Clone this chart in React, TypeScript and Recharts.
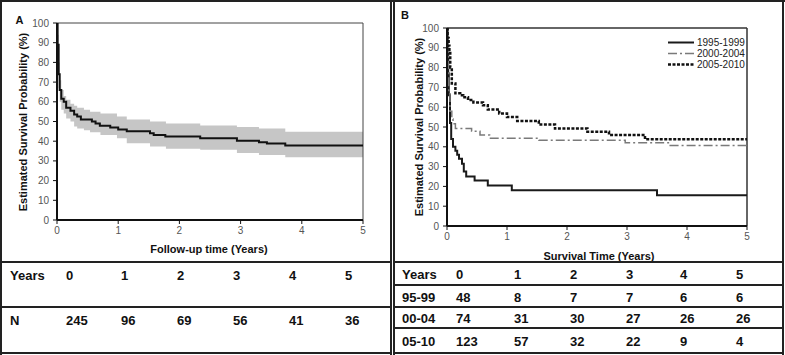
import React from "react";
import { ComposedChart, LineChart, Line, Area, XAxis, YAxis, ReferenceLine } from "recharts";

const FONT = "'Liberation Sans', Arial, sans-serif";

const yearTicks = [0, 1, 2, 3, 4, 5];
const pctTicks = [0, 10, 20, 30, 40, 50, 60, 70, 80, 90, 100];

// panel A: overall Kaplan-Meier estimate
const overallTime = [0, 0.01, 0.027, 0.044, 0.07, 0.11, 0.15, 0.22, 0.28, 0.33, 0.39, 0.57, 0.63, 0.7, 0.87, 1.0, 1.14, 1.52, 1.58, 1.77, 2.34, 2.94, 3.3, 3.43, 3.73, 5];
const overallSurv = [100, 89, 74, 66, 61.5, 60, 57, 55.5, 53.5, 52.5, 51, 50, 49, 47.8, 47, 46, 45, 44, 43.2, 42.4, 41.5, 40.2, 39.5, 38.8, 37.8, 37.8];

// 95% confidence band
const ciTime = [0, 0.01, 0.027, 0.044, 0.07, 0.11, 0.15, 0.22, 0.28, 0.33, 0.44, 0.54, 0.71, 0.98, 1.14, 1.52, 1.78, 2.34, 2.94, 3.3, 3.73, 5];
const ciUpper = [100, 94, 80, 71, 66, 63, 61, 59, 58, 57, 56, 55, 54, 52.5, 51, 50, 49, 48, 47.2, 46.5, 44.8, 44.8];
const ciLower = [100, 83, 67, 60, 56, 54, 51.5, 50, 47.5, 46.5, 45.5, 44.5, 43.2, 41.5, 39, 37.3, 36.2, 35.6, 34, 33, 31.8, 31.8];

// panel B: by period of diagnosis
const cohortLabels = ["1995-1999", "2000-2004", "2005-2010"];
const time9599 = [0, 0.01, 0.02, 0.03, 0.05, 0.07, 0.1, 0.14, 0.17, 0.2, 0.25, 0.28, 0.32, 0.46, 0.68, 1.08, 3.5, 5];
const surv9599 = [100, 90, 77, 66, 52, 44, 40, 38, 36, 34, 31.5, 27.5, 25, 23, 20.5, 18, 15.5, 15.5];
const time0004 = [0, 0.01, 0.02, 0.03, 0.05, 0.08, 0.1, 0.14, 0.41, 0.55, 0.71, 1.53, 2.97, 3.72, 5];
const surv0004 = [100, 92, 80, 68, 58, 54, 51.7, 49.2, 47.8, 46, 44.3, 43.3, 42, 40.7, 40.7];
const time0510 = [0, 0.01, 0.027, 0.04, 0.054, 0.08, 0.14, 0.22, 0.27, 0.35, 0.44, 0.6, 0.68, 0.87, 1.0, 1.17, 1.53, 1.8, 2.34, 2.7, 3.3, 5];
const surv0510 = [100, 95, 91, 88, 80, 72, 67, 66, 65, 63.6, 62.4, 61, 58.8, 56.8, 55, 53, 51.2, 49.2, 47.6, 46, 43.8, 43.8];

// numbers at risk
const riskYears = ["0", "1", "2", "3", "4", "5"];
const riskAll = [245, 96, 69, 56, 41, 36];
const riskRowLabels = ["95-99", "00-04", "05-10"];
const risk9599 = [48, 8, 7, 7, 6, 6];
const risk0004 = [74, 31, 30, 27, 26, 26];
const risk0510 = [123, 57, 32, 22, 9, 4];

const zip = (t: number[], s: number[]) => t.map((x, i) => ({ t: x, s: s[i] }));

const overallData = zip(overallTime, overallSurv);
const ciData = ciTime.map((x, i) => ({ t: x, range: [ciLower[i], ciUpper[i]] }));
const cohortData = [zip(time9599, surv9599), zip(time0004, surv0004), zip(time0510, surv0510)];
const cohortStyles = [
  { stroke: "#1a1a1a", strokeWidth: 2, dash: undefined },
  { stroke: "#7a7a7a", strokeWidth: 1.5, dash: "9 3 2 3" },
  { stroke: "#111", strokeWidth: 2.5, dash: "3 1.5" },
];

const tickStyle = { fontSize: 10, fill: "#555", fontFamily: FONT };

function Txt({ x, y, children, size = 13, weight = "bold", rotate = false, center = false, color = "#111" }: any) {
  const transform = rotate
    ? "translate(-50%, -50%) rotate(-90deg)"
    : center
    ? "translate(-50%, -50%)"
    : "translateY(-50%)";
  return (
    <div
      style={{
        position: "absolute",
        left: x,
        top: y,
        transform,
        fontFamily: FONT,
        fontSize: size,
        fontWeight: weight,
        color,
        whiteSpace: "nowrap",
        lineHeight: 1,
      }}
    >
      {children}
    </div>
  );
}

function Rule({ x, y, w, h }: any) {
  return <div style={{ position: "absolute", left: x, top: y, width: w, height: h, background: "#222" }} />;
}

function axes() {
  return [
    <XAxis
      key="x"
      type="number"
      dataKey="t"
      domain={[0, 5]}
      ticks={yearTicks}
      allowDataOverflow
      height={30}
      tickSize={4}
      tickMargin={3}
      axisLine={{ stroke: "#111", strokeWidth: 2 }}
      tickLine={{ stroke: "#111" }}
      tick={tickStyle}
    />,
    <YAxis
      key="y"
      type="number"
      domain={[0, 100]}
      ticks={pctTicks}
      allowDataOverflow
      width={40}
      tickSize={4}
      tickMargin={4}
      axisLine={{ stroke: "#111", strokeWidth: 2 }}
      tickLine={{ stroke: "#111" }}
      tick={tickStyle}
    />,
  ];
}

function PanelA() {
  return (
    <div style={{ position: "absolute", left: 0, top: 0 }}>
      <ComposedChart width={392} height={262} margin={{ top: 23, right: 29, bottom: 12, left: 17 }}>
        {axes()}
        <Area data={ciData} dataKey="range" type="stepAfter" fill="#c6c6c6" fillOpacity={1} stroke="none" isAnimationActive={false} />
        <ReferenceLine y={100} stroke="#444" strokeWidth={1} />
        <ReferenceLine x={5} stroke="#444" strokeWidth={1} />
        <Line data={overallData} dataKey="s" type="stepAfter" stroke="#111" strokeWidth={2} dot={false} isAnimationActive={false} />
      </ComposedChart>
    </div>
  );
}

function PanelB() {
  return (
    <div style={{ position: "absolute", left: 395, top: 0 }}>
      <LineChart width={385} height={262} margin={{ top: 28, right: 33, bottom: 6, left: 12 }}>
        {axes()}
        <ReferenceLine y={100} stroke="#333" strokeWidth={1.5} />
        <ReferenceLine x={5} stroke="#333" strokeWidth={1.5} />
        {cohortData.map((d, i) => (
          <Line
            key={cohortLabels[i]}
            name={cohortLabels[i]}
            data={d}
            dataKey="s"
            type="stepAfter"
            stroke={cohortStyles[i].stroke}
            strokeWidth={cohortStyles[i].strokeWidth}
            strokeDasharray={cohortStyles[i].dash}
            dot={false}
            isAnimationActive={false}
          />
        ))}
      </LineChart>
      {cohortLabels.map((label, i) => (
        <div key={label} style={{ position: "absolute", left: 273, top: 37 + i * 11, height: 11, display: "flex", alignItems: "center" }}>
          <svg width={27} height={11}>
            <line
              x1={0}
              x2={26}
              y1={5.5}
              y2={5.5}
              stroke={cohortStyles[i].stroke}
              strokeWidth={cohortStyles[i].strokeWidth}
              strokeDasharray={cohortStyles[i].dash}
            />
          </svg>
          <span style={{ fontFamily: FONT, fontSize: 10, color: "#222", marginLeft: 2 }}>{label}</span>
        </div>
      ))}
    </div>
  );
}

const colA = [10, 66, 121, 177, 233, 289, 345];
const colB = [402, 456, 514, 570, 626, 680, 736];

export default function App() {
  return (
    <div style={{ position: "absolute", left: 0, top: 0, width: 785, height: 355, background: "#fff", overflow: "hidden" }}>
      <PanelA />
      <PanelB />

      <Txt x={19.5} y={19.5} size={11} center>A</Txt>
      <Txt x={405} y={15} size={11} center>B</Txt>
      <Txt x={23} y={122} size={11} rotate>Estimated Survival Probability (%)</Txt>
      <Txt x={419} y={127} size={11} rotate>Estimated Survival Probability (%)</Txt>
      <Txt x={209} y={249} size={11} center>Follow-up time (Years)</Txt>
      <Txt x={599} y={256} size={11} center>Survival Time (Years)</Txt>

      {/* frame */}
      <Rule x={0} y={0} w={785} h={2} />
      <Rule x={0} y={0} w={2} h={355} />
      <Rule x={390} y={0} w={2} h={355} />
      <Rule x={393} y={0} w={2} h={355} />
      <Rule x={782} y={0} w={2} h={355} />

      {/* left table */}
      <Rule x={0} y={261} w={392} h={2} />
      <Rule x={0} y={306} w={392} h={2} />
      <Rule x={0} y={352} w={392} h={2} />
      <Txt x={colA[0]} y={275}>Years</Txt>
      {riskYears.map((y, i) => (
        <Txt key={"ya" + i} x={colA[i + 1]} y={275}>{y}</Txt>
      ))}
      <Txt x={colA[0]} y={320}>N</Txt>
      {riskAll.map((n, i) => (
        <Txt key={"na" + i} x={colA[i + 1]} y={320}>{n}</Txt>
      ))}

      {/* right table */}
      <Rule x={393} y={261} w={391} h={2} />
      <Rule x={393} y={284} w={391} h={2} />
      <Rule x={393} y={306} w={391} h={2} />
      <Rule x={393} y={327} w={391} h={2} />
      <Rule x={393} y={352} w={391} h={2} />
      <Txt x={colB[0]} y={274}>Years</Txt>
      {riskYears.map((y, i) => (
        <Txt key={"yb" + i} x={colB[i + 1]} y={274}>{y}</Txt>
      ))}
      {[risk9599, risk0004, risk0510].map((row, r) => (
        <React.Fragment key={riskRowLabels[r]}>
          <Txt x={colB[0]} y={[297, 318, 341][r]}>{riskRowLabels[r]}</Txt>
          {row.map((n, i) => (
            <Txt key={i} x={colB[i + 1]} y={[297, 318, 341][r]}>{n}</Txt>
          ))}
        </React.Fragment>
      ))}
    </div>
  );
}
